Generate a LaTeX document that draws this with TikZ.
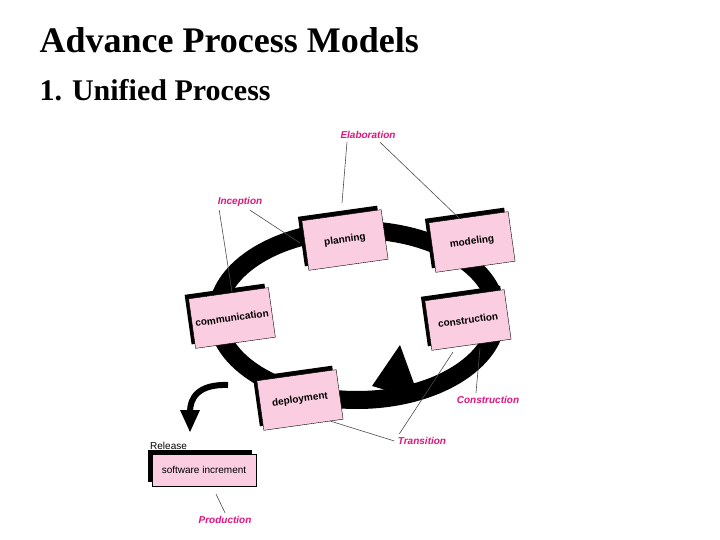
\documentclass[tikz,border=0pt]{standalone}
\usepackage{fontspec}
\setmainfont{Liberation Serif}
\newfontfamily\boxfont{Liberation Sans}
\usetikzlibrary{shadows}
\definecolor{boxpink}{RGB}{250,205,225}
\definecolor{phasemag}{RGB}{225,20,125}
\begin{document}
\begin{tikzpicture}[x=1pt,y=-1pt,
  activity/.style={draw=black,fill=boxpink,minimum width=80pt,minimum height=50pt,rotate=8,
    font=\boxfont\bfseries,drop shadow={shadow xshift=-4pt,shadow yshift=4pt,fill=black,opacity=1}},
  phase/.style={text=phasemag,font=\boxfont\bfseries\itshape},
  leader/.style={draw=black!70,line width=0.6pt}]
\useasboundingbox (0,0) rectangle (720,540);
\node[anchor=west,font=\fontsize{36}{40}\selectfont\bfseries] (title) at (36,40) {Advance Process Models};
\node[anchor=west,font=\fontsize{30}{34}\selectfont\bfseries] (subtitle) at (36,90) {1. Unified Process};
% cycle ring
\draw[line width=18pt] (357,315) ellipse [x radius=140,y radius=85];
\fill (400,345) -- (420,400) -- (372,386) -- cycle;
\draw[line width=6pt] (228,385) .. controls (198,384) and (190,398) .. (190,412);
\fill (180,410) -- (200,410) -- (190,432) -- cycle;
% activities
\node[activity] (planning) at (345,240) {planning};
\node[activity] (modeling) at (472,242) {modeling};
\node[activity] (communication) at (232,318) {communication};
\node[activity] (construction) at (468,320) {construction};
\node[activity] (deployment) at (300,400) {deployment};
\node[draw=black,fill=boxpink,minimum width=104pt,minimum height=32pt,font=\boxfont,
  drop shadow={shadow xshift=-4pt,shadow yshift=4pt,fill=black,opacity=1}] (increment) at (204,470) {software increment};
\node[anchor=south west,font=\boxfont,inner sep=0pt] (release) at (150,450) {Release};
% phases
\node[phase] (elaboration) at (368,135) {Elaboration};
\node[phase] (inception) at (240,202) {Inception};
\node[phase] (constr) at (488,400) {Construction};
\node[phase] (transition) at (422,441) {Transition};
\node[phase] (production) at (225,520) {Production};
\coordinate (c1) at (342,203);
\coordinate (c2) at (460,219);
\coordinate (c3) at (300,243);
\coordinate (c4) at (232,292);
\coordinate (c5) at (480,348);
\coordinate (c6) at (453,352);
\coordinate (c7) at (330,421);
\coordinate (c8) at (216,494);
\draw[leader] (elaboration.south west) ++(10,0) -- (c1);
\draw[leader] (elaboration.south) ++(12,0) -- (c2);
\draw[leader] (inception.south) ++(10,0) -- (c3);
\draw[leader] (inception.south west) ++(5,0) -- (c4);
\draw[leader] (constr.north) ++(-12,0) -- (c5);
\draw[leader] (transition.north west) ++(5,0) -- (c6);
\draw[leader] (transition.west) -- (c7);
\draw[leader] (production.north) -- (c8);
\end{tikzpicture}
\end{document}
